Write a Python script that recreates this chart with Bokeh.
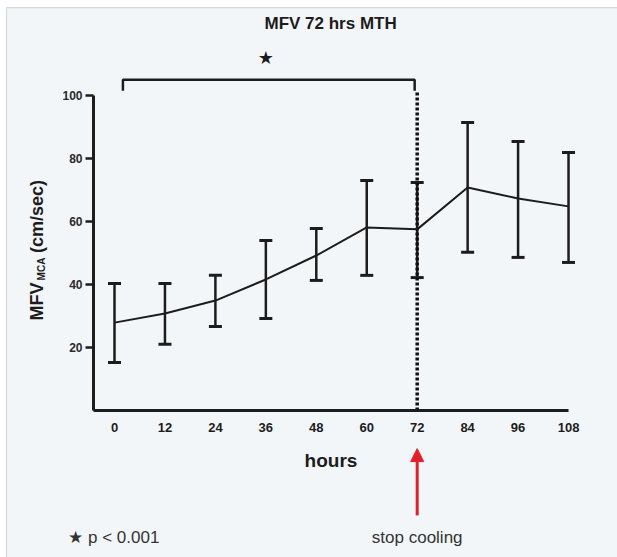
import math
from bokeh.plotting import figure
from bokeh.models import (ColumnDataSource, Whisker, TeeHead, Label, Arrow,
                          NormalHead, FixedTicker, Range1d, BoxAnnotation)
from bokeh.embed import file_html
from bokeh.resources import INLINE
from bokeh.core.properties import value

# ---- data ----
hours = [0, 12, 24, 36, 48, 60, 72, 84, 96, 108]
mfv_mean = [27.9, 30.8, 34.9, 41.6, 49.2, 58.1, 57.5, 70.8, 67.3, 64.8]
mfv_upper = [40.3, 40.3, 42.9, 54.0, 57.8, 73.0, 72.4, 91.4, 85.4, 81.9]
mfv_lower = [15.2, 21.0, 26.7, 29.2, 41.3, 42.9, 42.2, 50.2, 48.6, 47.0]
x_ticks = [0, 12, 24, 36, 48, 60, 72, 84, 96, 108]
y_ticks = [20, 40, 60, 80, 100]
stop_hour = 72

FONT = "Liberation Sans"
INK = "#1c1c1c"
BG = "#f3f6f9"

src = ColumnDataSource(dict(h=hours, m=mfv_mean, up=mfv_upper, lo=mfv_lower))

# frame covers the whole canvas; axes are pinned at fixed data locations
p = figure(width=617, height=557, output_backend="svg", toolbar_location=None,
           x_range=Range1d(-27.12, 119.65), y_range=Range1d(-46.67, 130.16),
           min_border=0)
p.title.visible = False
p.background_fill_color = "white"
p.border_fill_color = "white"
p.outline_line_color = None
p.grid.visible = False

# panel box of the figure (right/bottom edges fall outside the canvas)
p.add_layout(BoxAnnotation(left=-25.7, top=127.9, right=125, bottom=-50,
                           fill_color=BG, fill_alpha=1,
                           line_color="#8c8c8c", line_width=1.2, level="underlay"))

# axes
xa = p.xaxis[0]
xa.fixed_location = 0
xa.bounds = (-5, 108)
xa.ticker = FixedTicker(ticks=x_ticks)
xa.axis_line_width = 3
xa.axis_line_color = INK
xa.major_tick_line_color = None
xa.major_tick_out = 0
xa.major_tick_in = 0
xa.minor_tick_line_color = None
xa.major_label_standoff = 13
xa.major_label_text_font = FONT
xa.major_label_text_font_size = "13px"
xa.major_label_text_font_style = "bold"
xa.major_label_text_color = INK
xa.axis_label = "hours"
xa.axis_label_text_font = FONT
xa.axis_label_text_font_size = "19px"
xa.axis_label_text_font_style = "bold"
xa.axis_label_text_color = INK
xa.axis_label_standoff = 14

ya = p.yaxis[0]
ya.fixed_location = -5
ya.bounds = (0, 100)
ya.ticker = FixedTicker(ticks=y_ticks)
ya.axis_line_width = 3
ya.axis_line_color = INK
ya.major_tick_line_width = 2.5
ya.major_tick_line_color = INK
ya.major_tick_out = 8
ya.major_tick_in = 0
ya.minor_tick_line_color = None
ya.major_label_standoff = 3
ya.major_label_text_font = FONT
ya.major_label_text_font_size = "12px"
ya.major_label_text_font_style = "bold"
ya.major_label_text_color = "#2a2a2a"

# title
p.add_layout(Label(x=51.4, y=122.9, text="MFV 72 hrs MTH", text_align="center",
                   text_baseline="middle", text_font=FONT, text_font_size="17px",
                   text_font_style="bold", text_color=INK))

# dotted line at stop of cooling
p.line([stop_hour, stop_hour], [0, 101], line_width=3.5, line_dash="3 2", color="#111111")

# error bars
w = Whisker(source=src, base="h", upper="up", lower="lo", line_width=2.5, line_color=INK,
            upper_head=TeeHead(size=13, line_width=3, line_color=INK),
            lower_head=TeeHead(size=13, line_width=3, line_color=INK))
p.add_layout(w)

# mean line
p.line("h", "m", source=src, line_width=2, color=INK)

# significance bracket from 0 h to 72 h
b0 = hours[0] + 2
b1 = stop_hour - 0.6
p.line([b0, b0, b1, b1], [101.5, 105, 105, 101.5], line_width=2.5, color=INK)
p.text(x=[(hours[0] + stop_hour) / 2], y=[112], text=["★"], text_align="center",
       text_baseline="middle", text_font_size="18px", text_color=INK,
       text_font=value("DejaVu Sans"))

# y axis label with subscript
ylab_x = -18.5
p.add_layout(Label(x=ylab_x, y=28.6, text="MFV", angle=math.pi / 2, text_align="left",
                   text_baseline="middle", text_font=FONT, text_font_size="18px",
                   text_font_style="bold", text_color=INK))
p.add_layout(Label(x=ylab_x + 1.2, y=41.3, text="MCA", angle=math.pi / 2, text_align="left",
                   text_baseline="middle", text_font=FONT, text_font_size="10px",
                   text_font_style="bold", text_color=INK))
p.add_layout(Label(x=ylab_x, y=50.0, text="(cm/sec)", angle=math.pi / 2, text_align="left",
                   text_baseline="middle", text_font=FONT, text_font_size="18px",
                   text_font_style="bold", text_color=INK))

# red arrow + notes below the axis
p.add_layout(Arrow(end=NormalHead(size=13, fill_color="#e3202a", line_color="#e3202a"),
                   x_start=stop_hour, y_start=-33.3, x_end=stop_hour, y_end=-12.1,
                   line_color="#e3202a", line_width=3))
p.add_layout(Label(x=stop_hour, y=-40.3, text="stop cooling", text_align="center",
                   text_baseline="middle", text_font=FONT, text_font_size="17px",
                   text_color="#333333"))
p.add_layout(Label(x=-11, y=-40.3, text="★ p < 0.001", text_align="left",
                   text_baseline="middle", text_font=FONT, text_font_size="17px",
                   text_color="#333333"))

open("out.html", "w").write(file_html(p, INLINE))
